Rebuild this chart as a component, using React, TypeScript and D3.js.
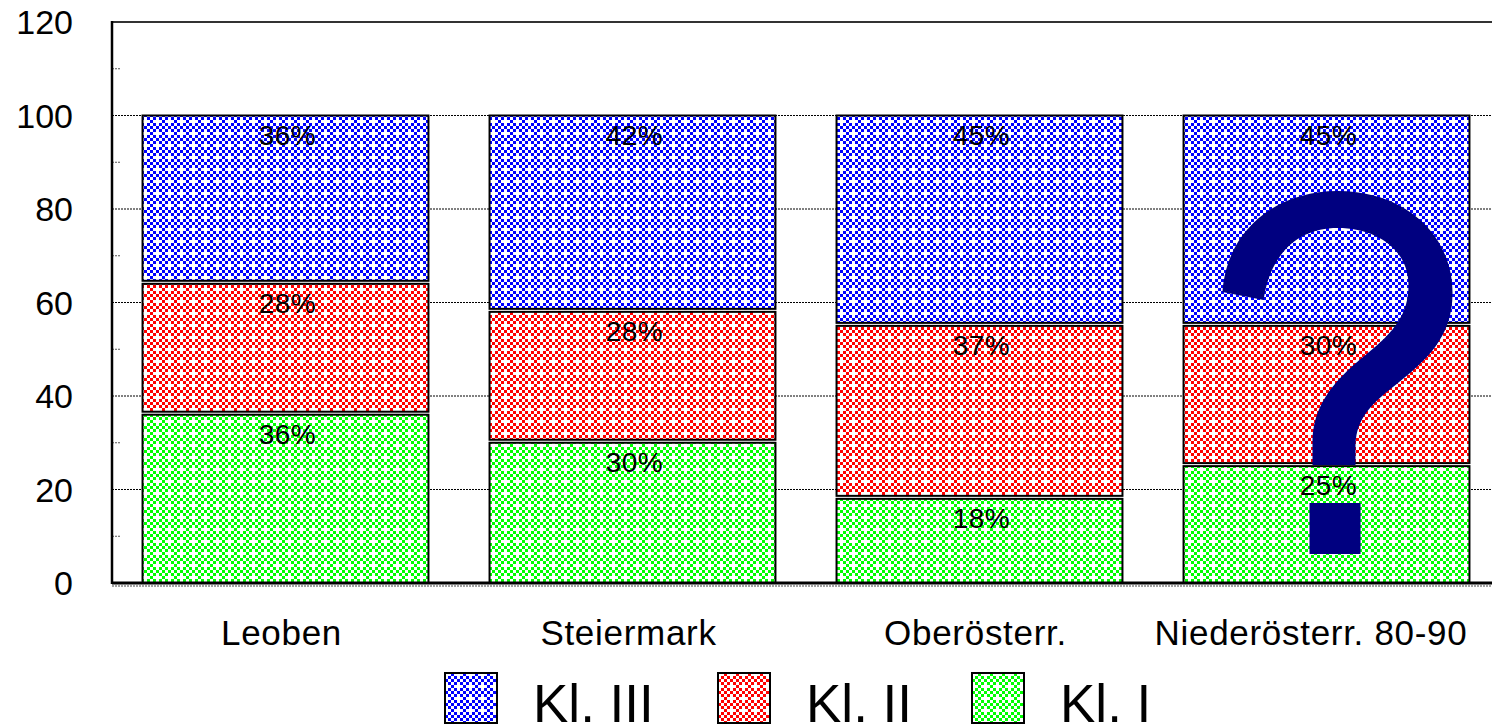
import React from 'react';
import * as d3 from 'd3';

// chart values (percent shares per region)
const categories = ['Leoben', 'Steiermark', 'Oberösterr.', 'Niederösterr. 80-90'];
const kl1 = [36, 30, 18, 25];
const kl2 = [28, 28, 37, 30];
const kl3 = [36, 42, 45, 45];
const legendNames = ['Kl. III', 'Kl. II', 'Kl. I'];
const yTicks = [0, 20, 40, 60, 80, 100, 120];
const minorTicks = [10, 30, 50, 70, 90, 110];

const W = 1492;
const H = 727;
const FONT = '"Liberation Sans", Arial, sans-serif';

const colors: Record<string, string> = { kl1: '#00ff00', kl2: '#ff0000', kl3: '#0000ff' };

// 4x4 cell dither: checkerboard with a hole every 4 cells
const cells: [number, number][] = [];
for (let i = 0; i < 4; i++) {
  for (let j = 0; j < 4; j++) {
    if ((i + j) % 2 === 0 && !(i === 0 && j === 0)) cells.push([i, j]);
  }
}

const Pattern = ({ id, color }: { id: string; color: string }) => (
  <pattern id={id} width={12} height={12} patternUnits="userSpaceOnUse">
    <rect width={12} height={12} fill="#fff" />
    {cells.map(([i, j]) => (
      <rect key={`${i}-${j}`} x={j * 3} y={i * 3} width={3} height={3} fill={color} />
    ))}
  </pattern>
);

// big question mark, drawn relative to (bar centre, baseline)
const questionPath =
  'M -104 -291 C -100 -352 -51 -392 11 -392 C 79 -392 126 -348 126 -290 ' +
  'C 126 -245 99 -222 69 -198 C 39 -175 29 -160 29 -135 L 29 -118 L -14 -118 L -14 -140 ' +
  'C -14 -175 4 -200 39 -228 C 69 -252 82 -270 82 -298 C 82 -332 52 -355 11 -355 ' +
  'C -28 -355 -56 -330 -63 -283 Z';

export default function App() {
  const margin = { top: 22, right: 0, bottom: 147, left: 112 };
  const x = d3
    .scaleBand<string>()
    .domain(categories)
    .range([margin.left, 1500])
    .paddingInner(0.176)
    .paddingOuter(0.088);
  const y = d3.scaleLinear().domain([0, 120]).range([H - margin.bottom + 3, margin.top]);

  const rows = categories.map((c, i) => ({ cat: c, kl1: kl1[i], kl2: kl2[i], kl3: kl3[i] }));
  const stack = d3.stack<any>().keys(['kl1', 'kl2', 'kl3'])(rows);

  const legendKeys = ['kl3', 'kl2', 'kl1'];
  const legendX = [445, 718, 972];

  const last = categories[categories.length - 1];
  const qx = x(last)! + x.bandwidth() / 2;

  return (
    <svg width={W} height={H} style={{ position: 'absolute', left: 0, top: 0, background: '#fff' }}>
      <defs>
        {Object.entries(colors).map(([k, c]) => (
          <Pattern key={k} id={`pat-${k}`} color={c} />
        ))}
      </defs>

      {/* gridlines */}
      {yTicks.slice(1, -1).map((t) => (
        <line key={t} x1={margin.left} x2={W} y1={y(t)} y2={y(t)} stroke="#000" strokeWidth={1} strokeDasharray="2 1" />
      ))}
      {minorTicks.map((t) => (
        <line key={t} x1={margin.left} x2={margin.left + 8} y1={y(t)} y2={y(t)} stroke="#555" strokeWidth={1} strokeDasharray="2 1" />
      ))}

      {/* bars */}
      {stack.map((s) => (
        <g key={s.key}>
          {s.map((d, i) => {
            const top = y(d[1]);
            const bottom = y(d[0]) - (d[0] > 0 ? 3 : 0);
            return (
              <rect
                key={i}
                x={x(categories[i])!}
                y={top}
                width={x.bandwidth()}
                height={bottom - top}
                fill={`url(#pat-${s.key})`}
                stroke="#000"
                strokeWidth={2}
              />
            );
          })}
          {s.map((d, i) => (
            <text
              key={`t${i}`}
              x={x(categories[i])! + x.bandwidth() / 2 + 2}
              y={y(d[1]) + 29}
              textAnchor="middle"
              fontFamily={FONT}
              fontSize={28}
              letterSpacing={0.5}
              fill="#000"
            >
              {`${d[1] - d[0]}%`}
            </text>
          ))}
        </g>
      ))}

      {/* axes frame */}
      <line x1={margin.left} x2={W} y1={y(120)} y2={y(120)} stroke="#333" strokeWidth={2} />
      <line x1={margin.left} x2={margin.left} y1={y(120) - 1} y2={y(0) + 1} stroke="#000" strokeWidth={2.5} />
      <line x1={margin.left} x2={W} y1={y(0)} y2={y(0)} stroke="#000" strokeWidth={3} />
      <line x1={margin.left} x2={W} y1={y(0) + 3} y2={y(0) + 3} stroke="#444" strokeWidth={1} strokeDasharray="2 1" />

      {yTicks.map((t) => (
        <text key={t} x={73} y={y(t) + 12} textAnchor="end" fontFamily={FONT} fontSize={34} fill="#000">
          {t}
        </text>
      ))}

      {categories.map((c) => {
        const isLast = c === last;
        return (
          <text
            key={c}
            x={isLast ? x(c)! + x.bandwidth() - 2 : x(c)! + x.bandwidth() / 2 - 4}
            y={645}
            textAnchor={isLast ? 'end' : 'middle'}
            fontFamily={FONT}
            fontSize={35}
            letterSpacing={0.7}
            fill="#000"
          >
            {c}
          </text>
        );
      })}

      {/* question mark annotation */}
      <g transform={`translate(${qx},${y(0)})`}>
        <path d={questionPath} fill="#000080" />
        <rect x={-17} y={-80} width={51} height={51} fill="#000080" />
      </g>

      {/* legend */}
      {legendKeys.map((k, i) => (
        <g key={k} transform={`translate(${legendX[i]},673)`}>
          <rect width={52} height={50} fill={`url(#pat-${k})`} stroke="#000" strokeWidth={2} />
          <text x={88} y={49} fontFamily={FONT} fontSize={53} fill="#000">
            {legendNames[i]}
          </text>
        </g>
      ))}
    </svg>
  );
}
